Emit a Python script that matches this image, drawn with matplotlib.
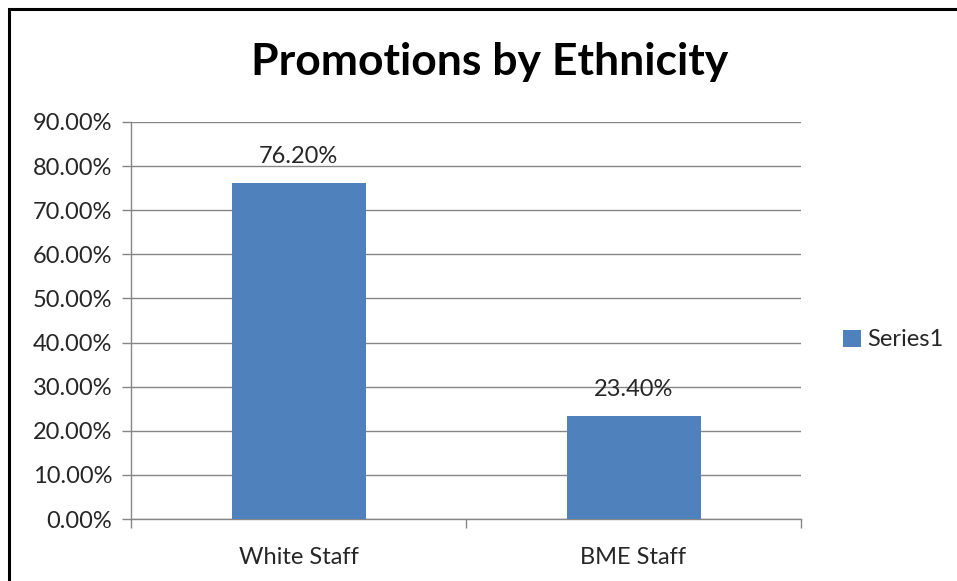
import matplotlib.pyplot as plt
from matplotlib.patches import Rectangle

categories = ["White Staff", "BME Staff"]
values = [76.20, 23.40]
series_name = "Series1"

plt.rcParams["font.family"] = ["Lato", "DejaVu Sans"]

bar_color = "#4F81BD"
grid_color = "#868686"
text_color = "#262626"

fig = plt.figure(figsize=(9.57, 5.81), dpi=100)
ax = fig.add_axes([131 / 957, 62 / 581, 670 / 957, 397 / 581])

x = list(range(len(categories)))
bars = ax.bar(x, values, width=0.4, color=bar_color, label=series_name, zorder=3)

# value labels above each bar
for xi, v in zip(x, values):
    ax.text(xi, v + 4.4, f"{v:.2f}%", ha="center", va="baseline",
            fontsize=17, color=text_color)

ax.set_xlim(-0.5, len(categories) - 0.5)
ax.set_ylim(0, 90)
ax.set_yticks(range(0, 91, 10))
ax.set_yticklabels([f"{t:.2f}%" for t in range(0, 91, 10)], fontsize=17, color=text_color)
ax.set_xticks(x)
ax.set_xticklabels(categories, fontsize=17, color=text_color)
ax.tick_params(axis="x", length=0, pad=20)
ax.tick_params(axis="y", length=6.5, width=1, color=grid_color, pad=7)

# category boundary ticks pointing down
ax.set_xticks([i - 0.5 for i in range(len(categories) + 1)], minor=True)
ax.tick_params(axis="x", which="minor", length=6.5, width=1, color=grid_color)

ax.grid(axis="y", color=grid_color, linewidth=1, zorder=0)
for side in ["top", "right"]:
    ax.spines[side].set_visible(False)
for side in ["left", "bottom"]:
    ax.spines[side].set_color(grid_color)
    ax.spines[side].set_linewidth(1)

fig.text(490 / 957, 1 - 62 / 581, "Promotions by Ethnicity", ha="center", va="center",
         fontsize=32, fontweight="bold", color="black")

fig.legend(loc="center left", bbox_to_anchor=(822 / 957, 1 - 340 / 581), frameon=False,
           fontsize=17, handlelength=0.75, handleheight=0.75, handletextpad=0.25,
           labelcolor=text_color)

# outer chart border (only top and left edges fall inside the image)
fig.patches.append(Rectangle((8.5 / 957, -0.5), 2.0, 1.5 - 8.5 / 581, transform=fig.transFigure,
                             fill=False, edgecolor="black", linewidth=2.2))

fig.savefig("out.png", dpi=100)
